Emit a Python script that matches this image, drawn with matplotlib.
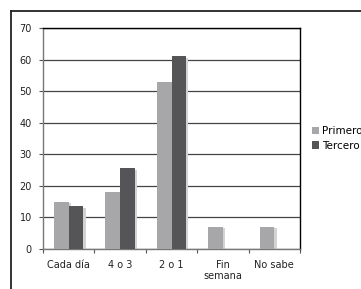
import matplotlib
matplotlib.use("Agg")
import matplotlib.pyplot as plt
import numpy as np
from matplotlib.lines import Line2D

categorias = ["Cada día", "4 o 3", "2 o 1", "Fin\nsemana", "No sabe"]
primero = [15, 18, 53, 7, 7]
tercero = [13.5, 25.5, 61, np.nan, np.nan]
series = ["Primero", "Tercero"]

col_prim = "#a7a7aa"
col_terc = "#555558"
col_sombra = "#d3d3d3"

fig = plt.figure(figsize=(3.61, 2.89), dpi=100)
ax = fig.add_axes([43/361, 1 - 249/289, 257/361, 221/289])

x = np.arange(len(categorias))
w = 0.285
dx, dy = 0.045, 0.5

# sombras
for vals, off in [(primero, -w/2), (tercero, w/2)]:
    v = np.array(vals, dtype=float)
    ok = ~np.isnan(v)
    ax.bar(x[ok] + off + dx, v[ok] - dy, w, color=col_sombra, zorder=2)

ax.bar(x - w/2, primero, w, color=col_prim, label=series[0], zorder=3)
ax.bar(x + w/2, tercero, w, color=col_terc, label=series[1], zorder=3)

ax.set_xlim(-0.5, len(categorias) - 0.5)
ax.set_ylim(0, 70)
ax.set_yticks(range(0, 71, 10))
ax.set_xticks(np.arange(len(categorias) + 1) - 0.5, minor=False)
ax.set_xticklabels([])
ax.set_xticks(x, minor=True)
ax.set_xticklabels(categorias, minor=True, fontsize=7, color="#222222")
ax.tick_params(axis="x", which="minor", length=0, pad=8)
ax.tick_params(axis="x", which="major", length=3, direction="out", color="#555555")
ax.tick_params(axis="y", length=3, direction="out", labelsize=7, color="#555555",
               pad=5, labelcolor="#222222")
for lbl in ax.get_xticklabels(minor=True):
    lbl.set_linespacing(1.15)

ax.yaxis.grid(True, color="#444444", linewidth=0.9, zorder=0)
ax.set_axisbelow(True)
ax.spines["left"].set_color("#777777")
ax.spines["bottom"].set_color("#777777")
ax.spines["top"].set_color("black")
ax.spines["right"].set_color("black")
for s in ax.spines.values():
    s.set_linewidth(1.0)

ax.legend(loc="upper left", bbox_to_anchor=(312/361, 1 - 126/289),
          bbox_transform=fig.transFigure, frameon=False, fontsize=7.5,
          handlelength=0.7, handleheight=0.7, handletextpad=0.3,
          labelspacing=0.45, borderpad=0, borderaxespad=0)

# marco exterior
fig.add_artist(Line2D([11/361, 11/361], [0, 1 - 11/289], color="#222222", lw=1.3))
fig.add_artist(Line2D([11/361, 1], [1 - 11/289, 1 - 11/289], color="#222222", lw=1.3))

fig.savefig("out.png", dpi=100)
